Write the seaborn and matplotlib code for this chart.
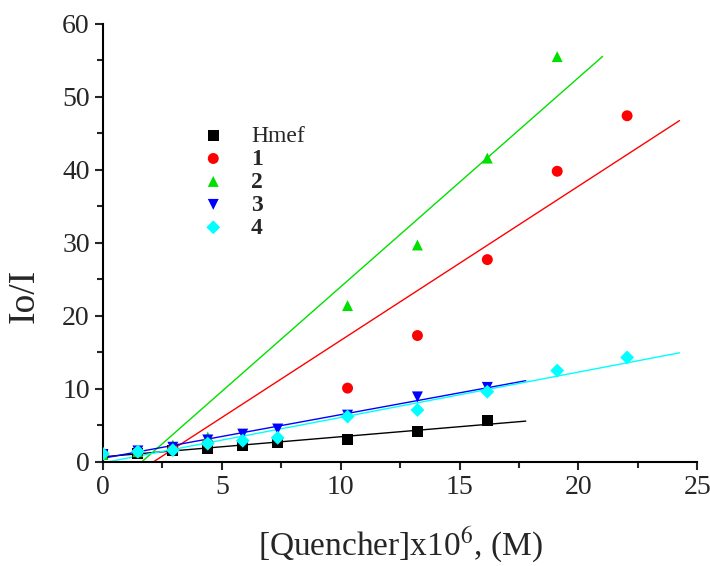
import numpy as np
import pandas as pd
import matplotlib
matplotlib.use('Agg')
import matplotlib.pyplot as plt
import seaborn as sns
from matplotlib.ticker import MultipleLocator

nan = np.nan
conc = [0, 1.47, 2.94, 4.41, 5.88, 7.35, 10.29, 13.23, 16.17, 19.11, 22.05]
hmef = [1.0, 1.2, 1.5, 1.8, 2.2, 2.6, 3.1, 4.1, 5.7, nan, nan]
c1 = [1.0, 1.3, 1.8, 2.6, nan, nan, 10.1, 17.3, 27.7, 39.8, 47.4]
c2 = [1.0, 1.4, 2.3, 3.4, nan, nan, 21.4, 29.7, 41.6, 55.5, nan]
c3 = [1.0, 1.5, 2.0, 3.0, 3.8, 4.5, 6.4, 8.9, 10.2, nan, nan]
c4 = [1.1, 1.4, 1.6, 2.5, 2.9, 3.3, 6.2, 7.1, 9.6, 12.5, 14.3]

names = ['Hmef', '1', '2', '3', '4']
series = [hmef, c1, c2, c3, c4]
colors = ['black', 'red', '#00e000', 'blue', 'cyan']
markers = ['s', 'o', '^', 'v', 'D']

sns.set_style('white')
plt.rcParams['font.family'] = ['Liberation Serif', 'DejaVu Serif']
plt.rcParams['mathtext.fontset'] = 'stix'

fig = plt.figure(figsize=(7.1, 5.66), dpi=100)
ax = fig.add_axes([0.145, 0.184, 0.837, 0.774])

for name, vals, col, mk in zip(names, series, colors, markers):
    x = np.array(conc)
    y = np.array(vals)
    ok = ~np.isnan(y)
    x, y = x[ok], y[ok]
    # linear fit drawn out a little past the last point
    k, b = np.polyfit(x, y, 1)
    xf = np.linspace(0, x.max() * 1.1, 50)
    fit = pd.DataFrame({'x': xf, 'y': k * xf + b})
    sns.lineplot(data=fit, x='x', y='y', color=col, lw=1, ax=ax)
    ms = 62 if mk != 'D' else 50
    sns.scatterplot(x=x, y=y, marker=mk, color=col, s=ms, edgecolor='none',
                    label=name, ax=ax, zorder=3)

ax.set_xlim(0, 25)
ax.set_ylim(0, 60)
ax.xaxis.set_major_locator(MultipleLocator(5))
ax.xaxis.set_minor_locator(MultipleLocator(2.5))
ax.yaxis.set_major_locator(MultipleLocator(10))
ax.yaxis.set_minor_locator(MultipleLocator(5))
ax.tick_params(which='major', direction='out', length=6, width=1.5,
               labelsize=20, bottom=True, left=True)
ax.tick_params(which='minor', direction='out', length=4, width=1.5,
               bottom=True, left=True)
for s in ['top', 'right']:
    ax.spines[s].set_visible(False)
for s in ['left', 'bottom']:
    ax.spines[s].set_linewidth(1.5)
    ax.spines[s].set_color('black')

ax.set_xlabel('[Quencher]x10$^6$, (M)', fontsize=24, labelpad=18)
ax.set_ylabel('Io/I', fontsize=27)
ax.yaxis.set_label_coords(-0.103, 0.38)

leg = ax.legend(loc='upper left', bbox_to_anchor=(0.13, 0.79), frameon=False,
                fontsize=17, handletextpad=0.6, labelspacing=0.06,
                borderaxespad=0)
for i, t in enumerate(leg.get_texts()):
    if i > 0:
        t.set_fontweight('bold')

fig.savefig('out.png', dpi=100)
